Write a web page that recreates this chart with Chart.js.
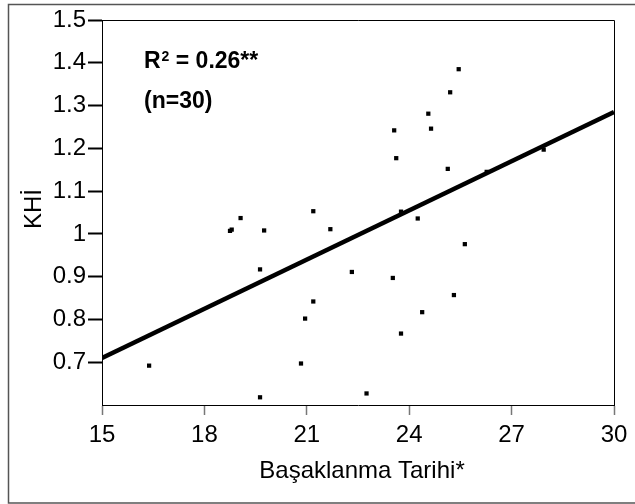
<!DOCTYPE html>
<html>
<head>
<meta charset="utf-8">
<script src="https://cdn.jsdelivr.net/npm/chart.js@4/dist/chart.umd.min.js"></script>
<style>
html,body{margin:0;padding:0;background:#fff;}
canvas{display:block;}
</style>
</head>
<body>
<canvas id="c" width="635" height="504"></canvas>
<script>
// Observed points: Başaklanma Tarihi (x) vs KHİ (y)
const basaklanmaTarihi = [16.38,18.75,18.80,19.06,19.63,19.63,19.75,20.83,20.95,21.19,21.19,21.69,22.32,22.75,23.52,23.56,23.62,23.76,23.76,24.25,24.38,24.56,24.64,25.13,25.20,25.31,25.45,25.63,26.27,27.94];
const khi = [0.692,1.007,1.010,1.037,0.917,0.618,1.008,0.697,0.802,0.842,1.053,1.011,0.911,0.627,0.897,1.242,1.177,1.052,0.767,1.036,0.817,1.281,1.246,1.152,1.331,0.857,1.385,0.976,1.145,1.197];
// Regression line end points
const trendX = [15, 30];
const trendY = [0.71, 1.285];
const xTicks = [15,18,21,24,27,30];
const yTicks = [0.7,0.8,0.9,1,1.1,1.2,1.3,1.4,1.5];
const xTitle = 'Başaklanma Tarihi*';
const yTitle = 'KHİ';

const FONT = '"Liberation Sans", Arial, sans-serif';

const framePlugin = {
  id: 'frame',
  beforeDraw(chart) {
    const ctx = chart.ctx;
    ctx.save();
    ctx.fillStyle = '#fff';
    ctx.fillRect(0, 0, chart.width, chart.height);
    ctx.strokeStyle = '#555';
    ctx.lineWidth = 1.5;
    ctx.strokeRect(8.5, 4.5, 640, 498.5);
    ctx.restore();
  },
  afterDraw(chart) {
    const ctx = chart.ctx;
    const a = chart.chartArea;
    ctx.save();
    ctx.strokeStyle = '#000';
    ctx.lineWidth = 1;
    ctx.beginPath();
    ctx.moveTo(a.left, a.top + 0.5);
    ctx.lineTo(a.right + 0.5, a.top + 0.5);
    ctx.lineTo(a.right + 0.5, a.bottom);
    ctx.stroke();
    // axis titles
    ctx.fillStyle = '#000';
    ctx.font = '24px ' + FONT;
    ctx.textAlign = 'center';
    ctx.textBaseline = 'middle';
    ctx.fillText(xTitle, (a.left + a.right) / 2 + 4, 471);
    ctx.save();
    ctx.translate(34, 209);
    ctx.rotate(-Math.PI / 2);
    ctx.fillText(yTitle, 0, 0);
    ctx.restore();
    // annotation
    ctx.textAlign = 'left';
    ctx.textBaseline = 'alphabetic';
    ctx.font = 'bold 23px ' + FONT;
    let x = 144, y = 68;
    ctx.fillText('R', x, y);
    x += ctx.measureText('R').width;
    ctx.font = 'bold 14px ' + FONT;
    ctx.fillText('2', x + 1, y - 7);
    x += ctx.measureText('2').width + 1;
    ctx.font = 'bold 23px ' + FONT;
    ctx.fillText(' = 0.26**', x, y);
    ctx.fillText('(n=30)', 144, 108);
    ctx.restore();
  }
};

const chart = new Chart(document.getElementById('c'), {
  type: 'scatter',
  data: {
    datasets: [
      {
        type: 'line',
        data: trendX.map((v, i) => ({x: v, y: trendY[i]})),
        borderColor: '#000',
        borderWidth: 4.5,
        pointRadius: 0,
        fill: false,
        order: 0
      },
      {
        data: basaklanmaTarihi.map((v, i) => ({x: v, y: khi[i]})),
        pointStyle: 'rect',
        pointRadius: 3,
        backgroundColor: '#000',
        borderColor: '#000',
        borderWidth: 0,
        order: 1
      }
    ]
  },
  options: {
    responsive: false,
    animation: false,
    devicePixelRatio: 1,
    layout: { padding: { left: 0, top: 20, right: 21, bottom: 0 } },
    plugins: { legend: { display: false }, tooltip: { enabled: false } },
    scales: {
      x: {
        type: 'linear',
        min: 15, max: 30,
        afterFit(s) { s.height = 99; },
        afterBuildTicks(s) { s.ticks = xTicks.map(v => ({value: v})); },
        border: { color: '#000', width: 1 },
        grid: { drawOnChartArea: false, drawTicks: true, tickLength: 10, color: '#777', tickWidth: 1.5 },
        ticks: { color: '#000', font: { family: FONT, size: 24 }, padding: 6, maxRotation: 0 }
      },
      y: {
        type: 'linear',
        min: 0.6, max: 1.5,
        afterFit(s) { s.width = 102; },
        afterBuildTicks(s) { s.ticks = yTicks.map(v => ({value: v})); },
        border: { color: '#000', width: 1 },
        grid: { drawOnChartArea: false, drawTicks: true, tickLength: 14, color: '#000', tickWidth: 2 },
        ticks: {
          color: '#000', font: { family: FONT, size: 24 }, padding: 2,
          callback: v => (Math.round(v * 10) / 10).toString()
        }
      }
    }
  },
  plugins: [framePlugin]
});
</script>
</body>
</html>
